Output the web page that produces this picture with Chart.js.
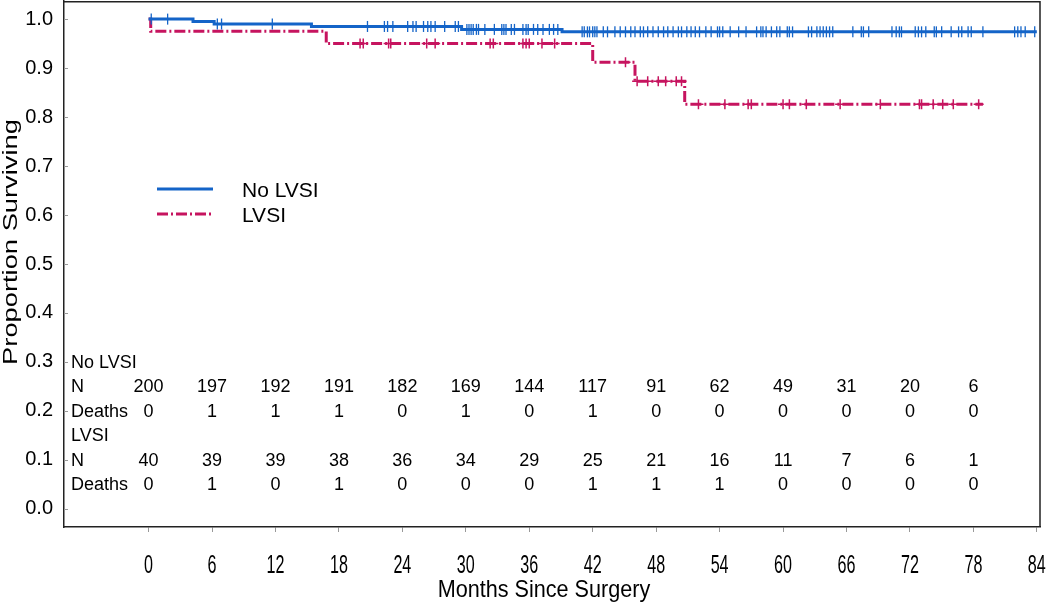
<!DOCTYPE html>
<html>
<head>
<meta charset="utf-8">
<script src="https://cdn.jsdelivr.net/npm/chart.js@4.4.0/dist/chart.umd.min.js"></script>
<style>
  html, body { margin: 0; padding: 0; background: #fff; }
  #wrap { width: 1050px; height: 602px; }
</style>
</head>
<body>
<div id="wrap"><canvas id="km"></canvas></div>
<script>
const FONT = '"Liberation Sans", Arial, sans-serif';
const BLUE = '#1464C8';
const RED  = '#C6145F';
const DASH = [11, 3, 2, 3];

// survival steps (event time, survival after event)
const NO_LVSI_T = [0, 4.2, 6.2, 15.4, 29.6, 39.1, 84];
const NO_LVSI_S = [1, 0.995, 0.990, 0.985, 0.979, 0.974, 0.974];
const LVSI_T    = [0, 0.2, 16.8, 42.0, 46.0, 50.7, 78.9];
const LVSI_S    = [1, 0.975, 0.950, 0.912, 0.873, 0.826, 0.826];

// censored times
const NO_LVSI_CENSOR = [0.25, 1.8, 6.5, 6.9, 11.7, 20.7, 22.3, 22.6, 23.1, 24.5, 25.0, 25.3, 26.0, 26.4, 26.7,
  27.1, 28.0, 29.0, 29.3, 30.1, 30.3, 30.5, 30.7, 31.0, 31.2, 31.8, 32.7, 33.4, 33.6, 33.8, 34.3, 34.6,
  35.4, 35.7, 35.9, 36.4, 36.8, 37.3, 37.9, 38.3, 38.7, 41.0, 41.2, 41.5, 41.7, 42.0, 42.2, 42.4, 43.0,
  43.4, 44.1, 44.6, 45.1, 45.6, 46.0, 46.5, 46.8, 47.2, 47.7, 48.2, 48.7, 49.1, 49.6, 50.1, 50.4, 50.9,
  51.3, 51.7, 52.1, 52.7, 53.2, 53.8, 54.0, 54.3, 55.0, 55.8, 56.5, 57.5, 57.9, 58.1, 58.4, 58.9, 59.4,
  59.7, 60.4, 60.6, 60.9, 62.4, 62.7, 63.2, 63.5, 63.8, 64.1, 64.4, 64.7, 66.6, 67.4, 67.6, 68.1, 70.3,
  70.7, 71.0, 71.2, 72.5, 72.8, 73.1, 73.5, 74.3, 74.5, 75.0, 75.9, 76.6, 76.9, 77.5, 77.8, 78.9, 81.9,
  82.2, 82.5, 82.9, 83.8];
const LVSI_CENSOR = [20.0, 20.3, 22.7, 22.9, 26.3, 27.1, 32.3, 32.6, 35.4, 35.7, 36.0, 37.2, 38.4, 45.1,
  46.2, 47.2, 48.2, 48.9, 49.9, 50.4, 52.0, 54.5, 56.7, 57.0, 60.0, 60.6, 62.2, 65.4, 69.2, 72.9, 73.1,
  74.2, 75.1, 76.1, 78.5];

const X_TICKS = [0, 6, 12, 18, 24, 30, 36, 42, 48, 54, 60, 66, 72, 78, 84];
const Y_TICKS = [0, 0.1, 0.2, 0.3, 0.4, 0.5, 0.6, 0.7, 0.8, 0.9, 1.0];

// numbers at risk table
const RISK_TIMES     = [0, 6, 12, 18, 24, 30, 36, 42, 48, 54, 60, 66, 72, 78];
const NO_LVSI_N      = [200, 197, 192, 191, 182, 169, 144, 117, 91, 62, 49, 31, 20, 6];
const NO_LVSI_DEATHS = [0, 1, 1, 1, 0, 1, 0, 1, 0, 0, 0, 0, 0, 0];
const LVSI_N         = [40, 39, 39, 38, 36, 34, 29, 25, 21, 16, 11, 7, 6, 1];
const LVSI_DEATHS    = [0, 1, 0, 1, 0, 0, 0, 1, 1, 1, 0, 0, 0, 0];

const survAt = (T, S, t) => {
    let s = S[0];
    for (let i = 0; i < T.length; i++) if (T[i] <= t) s = S[i];
    return s;
};
const stepPts = (T, S) => T.map((t, i) => ({ x: t, y: S[i] }));
const censorPts = (C, T, S) => C.map(t => ({ x: t, y: survAt(T, S, t) }));

function scaledText(ctx, text, x, y, sx, sy, rot) {
    ctx.save();
    ctx.translate(x, y);
    if (rot) ctx.rotate(rot);
    ctx.scale(sx, sy);
    ctx.fillText(text, 0, 0);
    ctx.restore();
}

// top/right frame lines and small inner y ticks
const framePlugin = {
    id: 'frame',
    beforeDatasetsDraw(chart) {
        const { ctx, chartArea: a, scales: { y } } = chart;
        ctx.save();
        ctx.strokeStyle = '#222';
        ctx.lineWidth = 1.5;
        ctx.beginPath();
        ctx.moveTo(a.left, a.top + 0.75);
        ctx.lineTo(a.right, a.top + 0.75);
        ctx.lineTo(a.right, a.bottom);
        ctx.stroke();
        ctx.strokeStyle = '#999';
        ctx.lineWidth = 1;
        Y_TICKS.forEach(v => {
            const py = Math.round(y.getPixelForValue(v)) + 0.5;
            ctx.beginPath();
            ctx.moveTo(a.left, py);
            ctx.lineTo(a.left + 4, py);
            ctx.stroke();
        });
        ctx.restore();
    }
};

const textPlugin = {
    id: 'texts',
    afterDraw(chart) {
        const { ctx, chartArea: a, scales: { x, y } } = chart;
        ctx.save();
        ctx.fillStyle = '#000';

        // x tick labels (condensed)
        ctx.font = '26px ' + FONT;
        ctx.textAlign = 'center';
        ctx.textBaseline = 'middle';
        X_TICKS.forEach(t => scaledText(ctx, String(t), x.getPixelForValue(t), 566, 0.62, 1));

        // axis titles
        ctx.font = '24px ' + FONT;
        scaledText(ctx, 'Months Since Surgery', 544, 590, 0.9, 1);
        ctx.font = '21px ' + FONT;
        scaledText(ctx, 'Proportion Surviving', 11, 242, 1.3, 1, -Math.PI / 2);

        // legend
        ctx.lineWidth = 3;
        ctx.strokeStyle = BLUE;
        ctx.beginPath(); ctx.moveTo(157, 189); ctx.lineTo(213, 189); ctx.stroke();
        ctx.strokeStyle = RED;
        ctx.setLineDash(DASH);
        ctx.beginPath(); ctx.moveTo(157, 214); ctx.lineTo(213, 214); ctx.stroke();
        ctx.setLineDash([]);
        ctx.font = '21px ' + FONT;
        ctx.textAlign = 'left';
        ctx.fillText('No LVSI', 242, 191);
        ctx.fillText('LVSI', 242, 216);

        // numbers at risk
        ctx.font = '18px ' + FONT;
        const rows = [
            ['No LVSI', 0.30, null],
            ['N', 0.25, NO_LVSI_N],
            ['Deaths', 0.20, NO_LVSI_DEATHS],
            ['LVSI', 0.15, null],
            ['N', 0.10, LVSI_N],
            ['Deaths', 0.05, LVSI_DEATHS]
        ];
        rows.forEach(([label, yv, vals]) => {
            const py = y.getPixelForValue(yv) + 1;
            ctx.textAlign = 'left';
            ctx.fillText(label, a.left + 7, py);
            if (!vals) return;
            ctx.textAlign = 'center';
            vals.forEach((v, i) => ctx.fillText(String(v), x.getPixelForValue(RISK_TIMES[i]), py));
        });
        ctx.restore();
    }
};

new Chart(document.getElementById('km'), {
    type: 'line',
    data: {
        datasets: [
            {
                label: 'No LVSI censored',
                data: censorPts(NO_LVSI_CENSOR, NO_LVSI_T, NO_LVSI_S),
                showLine: false,
                pointStyle: 'line',
                rotation: 90,
                pointRadius: 5.5,
                borderColor: BLUE,
                pointBorderWidth: 1.3
            },
            {
                label: 'LVSI censored',
                data: censorPts(LVSI_CENSOR, LVSI_T, LVSI_S),
                showLine: false,
                pointStyle: 'cross',
                pointRadius: 5,
                borderColor: RED,
                pointBorderWidth: 1.5
            },
            {
                label: 'No LVSI',
                data: stepPts(NO_LVSI_T, NO_LVSI_S),
                stepped: true,
                borderColor: BLUE,
                borderWidth: 3,
                pointRadius: 0,
                fill: false
            },
            {
                label: 'LVSI',
                data: stepPts(LVSI_T, LVSI_S),
                stepped: true,
                borderColor: RED,
                borderWidth: 3,
                borderDash: DASH,
                pointRadius: 0,
                fill: false
            }
        ]
    },
    options: {
        responsive: true,
        maintainAspectRatio: false,
        animation: false,
        events: [],
        layout: { autoPadding: false, padding: { top: 1, right: 10, left: 0, bottom: 0 } },
        plugins: { legend: { display: false }, tooltip: { enabled: false } },
        scales: {
            x: {
                type: 'linear',
                min: -8,
                max: 84.3,
                afterBuildTicks: s => { s.ticks = X_TICKS.map(v => ({ value: v })); },
                afterFit: s => { s.height = 75; s.paddingLeft = 0; s.paddingRight = 0; },
                ticks: { display: false },
                grid: { drawOnChartArea: false, drawTicks: true, tickLength: 5, color: '#999' },
                border: { color: '#222', width: 1.5 }
            },
            y: {
                min: -0.037,
                max: 1.037,
                afterBuildTicks: s => { s.ticks = Y_TICKS.map(v => ({ value: v })); },
                afterFit: s => { s.width = 64; s.paddingTop = 0; s.paddingBottom = 0; },
                ticks: {
                    color: '#000',
                    padding: 11,
                    font: { family: FONT, size: 20 },
                    callback: v => Number(v).toFixed(1)
                },
                grid: { drawOnChartArea: false, drawTicks: false },
                border: { color: '#222', width: 1.5 }
            }
        }
    },
    plugins: [framePlugin, textPlugin]
});
</script>
</body>
</html>
